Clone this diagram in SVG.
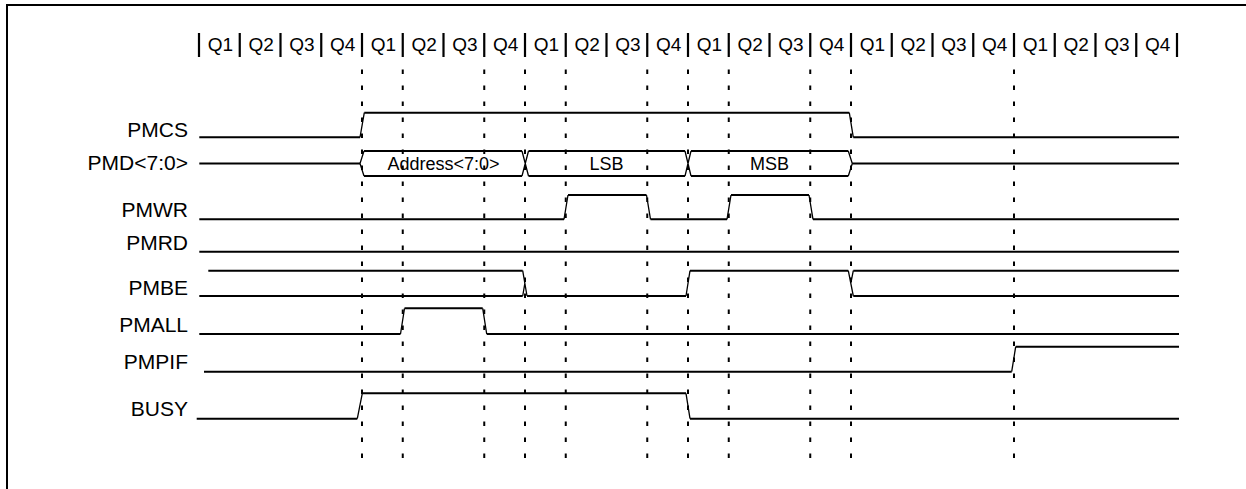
<svg xmlns="http://www.w3.org/2000/svg" width="1246" height="489" viewBox="0 0 1246 489">
<style>
.lbl{font-family:"Liberation Sans",Arial,sans-serif;font-size:21px;fill:#000;text-anchor:end}
.q{font-family:"Liberation Sans",Arial,sans-serif;font-size:19px;fill:#000;text-anchor:middle}
.bus{font-family:"Liberation Sans",Arial,sans-serif;font-size:18px;fill:#000;text-anchor:middle}
.h{fill:none;stroke:#000;stroke-width:2}
.e{fill:none;stroke:#000;stroke-width:1.3}
.bar{fill:none;stroke:#000;stroke-width:2.2}
.dash{fill:none;stroke:#000;stroke-width:2;stroke-dasharray:4.5 11.5}
</style>
<rect width="1246" height="489" fill="#fff"/>
<path id="frame" d="M7,489V5H1246" fill="none" stroke="#000" stroke-width="2"/>
<g id="header">
<path class="bar" d="M199,33V57M239.75,33V57M280.5,33V57M321.25,33V57M362,33V57M402.75,33V57M443.5,33V57M484.25,33V57M525,33V57M565.75,33V57M606.5,33V57M647.25,33V57M688,33V57M728.75,33V57M769.5,33V57M810.25,33V57M851,33V57M891.75,33V57M932.5,33V57M973.25,33V57M1014,33V57M1054.75,33V57M1095.5,33V57M1136.25,33V57M1177,33V57"/>
<text class="q" x="220.4" y="51">Q1</text><text class="q" x="261.1" y="51">Q2</text><text class="q" x="301.9" y="51">Q3</text><text class="q" x="342.6" y="51">Q4</text>
<text class="q" x="383.4" y="51">Q1</text><text class="q" x="424.1" y="51">Q2</text><text class="q" x="464.9" y="51">Q3</text><text class="q" x="505.6" y="51">Q4</text>
<text class="q" x="546.4" y="51">Q1</text><text class="q" x="587.1" y="51">Q2</text><text class="q" x="627.9" y="51">Q3</text><text class="q" x="668.6" y="51">Q4</text>
<text class="q" x="709.4" y="51">Q1</text><text class="q" x="750.1" y="51">Q2</text><text class="q" x="790.9" y="51">Q3</text><text class="q" x="831.6" y="51">Q4</text>
<text class="q" x="872.4" y="51">Q1</text><text class="q" x="913.1" y="51">Q2</text><text class="q" x="953.9" y="51">Q3</text><text class="q" x="994.6" y="51">Q4</text>
<text class="q" x="1035.4" y="51">Q1</text><text class="q" x="1076.1" y="51">Q2</text><text class="q" x="1116.9" y="51">Q3</text><text class="q" x="1157.6" y="51">Q4</text>
</g>
<g id="connectors">
<path class="dash" d="M362,69.5V458M402.75,69.5V458M484.25,69.5V458M525,69.5V458M565.75,69.5V458M647.25,69.5V458M688,69.5V458M728.75,69.5V458M810.25,69.5V458M851,69.5V458M1014,69.5V458"/>
</g>
<g id="PMCS">
<text class="lbl" x="188" y="137">PMCS</text>
<path class="h" d="M199.3,137.3H360M364.3,112.7H849.3M853.3,137.3H1179"/>
<path class="e" d="M360,137.3L364.3,112.7M849.3,112.7L853.3,137.3"/>
</g>
<g id="PMD">
<text class="lbl" x="188" y="170">PMD&lt;7:0&gt;</text>
<path class="h" d="M199.3,163.5H360M364,151H522M364,176H522M528.5,151H685M528.5,176H685M691,151H848.3M691,176H848.3M852.3,163.5H1179"/>
<path class="e" d="M364,151L360,163.5L364,176M522,151L528.5,176M522,176L528.5,151M685,151L691,176M685,176L691,151M848.3,151L852.3,163.5L848.3,176"/>
<text class="bus" x="443.5" y="169.5">Address&lt;7:0&gt;</text>
<text class="bus" x="606.5" y="169.5">LSB</text>
<text class="bus" x="769.5" y="169.5">MSB</text>
</g>
<g id="PMWR">
<text class="lbl" x="188" y="217">PMWR</text>
<path class="h" d="M199.3,219.3H564M568,195H646.5M650.5,219.3H727M731,195H809M813,219.3H1179"/>
<path class="e" d="M564,219.3L568,195M646.5,195L650.5,219.3M727,219.3L731,195M809,195L813,219.3"/>
</g>
<g id="PMRD">
<text class="lbl" x="188" y="250">PMRD</text>
<path class="h" d="M199.3,251.7H1179"/>
</g>
<g id="PMBE">
<text class="lbl" x="188" y="295">PMBE</text>
<path class="h" d="M208.3,270.7H522.7M199.3,296H522.7M527,296H686M690,270.7H848.3M853.3,270.7H1179M853.3,296H1179"/>
<path class="e" d="M522.7,270.7L527,296M522.7,296L524.85,283.35M686,296L690,270.7M848.3,270.7L853.3,296M850.8,283.35L853.3,270.7"/>
</g>
<g id="PMALL">
<text class="lbl" x="188" y="332">PMALL</text>
<path class="h" d="M199.3,334H400.5M404.5,308.3H482.7M486.7,334H1179"/>
<path class="e" d="M400.5,334L404.5,308.3M482.7,308.3L486.7,334"/>
</g>
<g id="PMPIF">
<text class="lbl" x="188" y="369">PMPIF</text>
<path class="h" d="M204,371.7H1011.7M1015.7,346.7H1179"/>
<path class="e" d="M1011.7,371.7L1015.7,346.7"/>
</g>
<g id="BUSY">
<text class="lbl" x="188" y="416">BUSY</text>
<path class="h" d="M196.7,418.7H357.3M362.3,393.3H686M690,418.7H1179"/>
<path class="e" d="M357.3,418.7L362.3,393.3M686,393.3L690,418.7"/>
</g>
</svg>
